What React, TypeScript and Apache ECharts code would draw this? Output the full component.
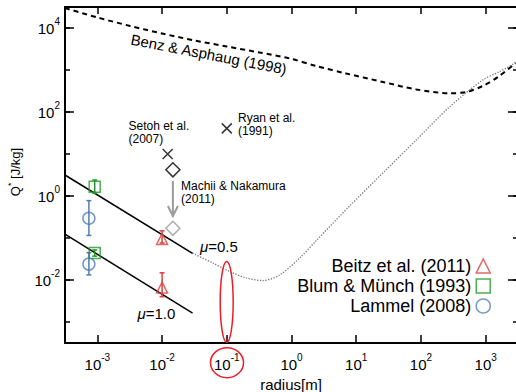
import React, { useEffect, useRef } from "react";
import * as echarts from "echarts";

const FONT = '"Liberation Sans", Arial, Helvetica, sans-serif';
const RED = "#d9403f";
const GREEN = "#22992a";
const BLUE = "#4f7db3";
const ELLIPSE = "#ee1c25";

// Benz & Asphaug (1998) dashed curve
const benzR = [3.16e-4, 1e-3, 3.2e-3, 0.01, 0.032, 0.1, 0.32, 0.94, 2.4, 7, 26, 85, 276, 500, 900, 1630, 2900];
const benzQ = [29900, 17800, 11200, 7400, 5040, 3630, 2610, 1880, 1245, 826, 518, 344, 279, 299, 416, 719, 1470];

// dotted extrapolation curve
const gravR = [0.0296, 0.0608, 0.111, 0.201, 0.36, 0.658, 1.34, 2.42, 7.9, 25.8, 84.5, 276, 902, 1633, 2884];
const gravQ = [0.0433, 0.0254, 0.0159, 0.0112, 0.0097, 0.0132, 0.0334, 0.0871, 0.578, 3.53, 21.5, 131.5, 578, 912, 1470];

// mu lines
const mu05R = [3.16e-4, 0.0296];
const mu05Q = [3.16, 0.0433];
const mu10R = [3.16e-4, 0.0296];
const mu10Q = [0.123, 0.00162];

// experiments
const beitzR = [0.01, 0.01];
const beitzQ = [0.095, 0.0066];
const beitzLo = [0.076, 0.004];
const beitzHi = [0.148, 0.0148];

const blumR = [9.1e-4, 9.1e-4];
const blumQ = [1.66, 0.044];
const blumLo = [1.17, 0.037];
const blumHi = [2.4, 0.052];

const lammelR = [7.4e-4, 7.4e-4];
const lammelQ = [0.295, 0.024];
const lammelLo = [0.115, 0.0132];
const lammelHi = [0.776, 0.0447];

const crossR = [0.0122, 0.1]; // Setoh, Ryan
const crossQ = [10, 40.7];
const setohDiamondR = [0.0147];
const setohDiamondQ = [4.2];
const machiiR = [0.0147];
const machiiQ = [0.17];
const arrowR = [0.0147];
const arrowFrom = [2.28];
const arrowTo = [0.334];

const X_MIN = Math.pow(10, -3.5);
const X_MAX = Math.pow(10, 3.5);
const Y_MIN = Math.pow(10, -3.5);
const Y_MAX = Math.pow(10, 4.5);

const rich = {
  b: { fontSize: 15, lineHeight: 24, fontFamily: FONT, color: "#000" },
  s: { fontSize: 10, lineHeight: 10, verticalAlign: "top", fontFamily: FONT, color: "#000" },
};

const expLabel = (v: number, evenOnly: boolean) => {
  const e = Math.log10(v);
  const r = Math.round(e);
  if (Math.abs(e - r) > 0.01) return "";
  if (evenOnly && r % 2 !== 0) return "";
  return `{b|10}{s|${r === 0 ? 0 : r}}`;
};

const pairs = (xs: number[], ys: number[]) => xs.map((x, i) => [x, ys[i]]);

const errorSeries = (name: string, xs: number[], lo: number[], hi: number[], color: string) => ({
  type: "custom",
  name,
  xAxisIndex: 0,
  yAxisIndex: 0,
  z: 4,
  data: xs.map((x, i) => [x, lo[i], hi[i]]),
  encode: { x: 0, y: [1, 2] },
  renderItem: (params: any, api: any) => {
    const x = api.value(0);
    const top = api.coord([x, api.value(2)]);
    const bot = api.coord([x, api.value(1)]);
    const w = 2.5;
    const st = { stroke: color, lineWidth: 1.5 };
    return {
      type: "group",
      children: [
        { type: "line", shape: { x1: top[0], y1: top[1], x2: bot[0], y2: bot[1] }, style: st },
        { type: "line", shape: { x1: top[0] - w, y1: top[1], x2: top[0] + w, y2: top[1] }, style: st },
        { type: "line", shape: { x1: bot[0] - w, y1: bot[1], x2: bot[0] + w, y2: bot[1] }, style: st },
      ],
    };
  },
});

const openStyle = (color: string) => ({ color: "rgba(0,0,0,0)", borderColor: color, borderWidth: 1.5 });

const legendFor = (name: string, icon: string, color: string, top: number) => ({
  data: [{ name, icon, itemStyle: openStyle(color) }],
  right: 25,
  top,
  orient: "vertical",
  align: "right",
  itemWidth: 14,
  itemHeight: 14,
  padding: 0,
  selectedMode: false,
  textStyle: { fontSize: 18, fontFamily: FONT, color: "#000" },
});

const tick = (length: number) => ({ show: true, inside: true, length, lineStyle: { color: "#000", width: 1.5 } });

export default function App() {
  const ref = useRef<HTMLDivElement>(null);
  useEffect(() => {
    if (!ref.current) return;
    const chart = echarts.init(ref.current, undefined, { renderer: "svg" });
    const axisLine = { show: true, lineStyle: { color: "#000", width: 2 } };
    const option: any = {
      animation: false,
      backgroundColor: "#fff",
      textStyle: { fontFamily: FONT },
      grid: { left: 65, top: 7, width: 453, height: 336, outerBoundsMode: "none", containLabel: false },
      xAxis: [
        {
          type: "log", logBase: 10, min: X_MIN, max: X_MAX, position: "bottom",
          axisLine, axisTick: tick(8),
          axisLabel: { margin: 9, formatter: (v: number) => expLabel(v, false), rich },
          splitLine: { show: false },
        },
        {
          type: "log", logBase: 10, min: X_MIN, max: X_MAX, position: "top",
          axisLine, axisTick: tick(7),
          axisLabel: { show: false },
          splitLine: { show: false },
        },
      ],
      yAxis: [
        {
          type: "log", logBase: 100, min: Y_MIN, max: Y_MAX, position: "left",
          axisLine, axisTick: tick(9),
          axisLabel: { margin: 5, formatter: (v: number) => expLabel(v, true), rich },
          splitLine: { show: false },
        },
        {
          type: "log", logBase: 10, min: Y_MIN, max: Y_MAX, position: "left",
          axisLine: { show: false }, axisTick: tick(5),
          axisLabel: { show: false },
          splitLine: { show: false },
        },
        {
          type: "log", logBase: 100, min: Y_MIN, max: Y_MAX, position: "right",
          axisLine, axisTick: tick(10),
          axisLabel: { show: false },
          splitLine: { show: false },
        },
        {
          type: "log", logBase: 10, min: Y_MIN, max: Y_MAX, position: "right",
          axisLine: { show: false }, axisTick: tick(5),
          axisLabel: { show: false },
          splitLine: { show: false },
        },
      ],
      legend: [
        legendFor("Beitz et al. (2011)", "triangle", RED, 257),
        legendFor("Blum & Münch (1993)", "rect", GREEN, 277),
        legendFor("Lammel (2008)", "circle", BLUE, 297),
      ],
      series: [
        {
          type: "line", name: "Benz & Asphaug (1998)", data: pairs(benzR, benzQ),
          smooth: 0.3, showSymbol: false, symbol: "none",
          lineStyle: { color: "#000", width: 2, type: [5, 4] },
        },
        {
          type: "line", name: "extrapolation", data: pairs(gravR, gravQ),
          smooth: 0.3, showSymbol: false, symbol: "none",
          lineStyle: { color: "#777", width: 1.3, type: [1.3, 1.5] },
        },
        {
          type: "line", name: "mu=0.5", data: pairs(mu05R, mu05Q),
          showSymbol: false, symbol: "none", lineStyle: { color: "#000", width: 1.5 },
        },
        {
          type: "line", name: "mu=1.0", data: pairs(mu10R, mu10Q),
          showSymbol: false, symbol: "none", lineStyle: { color: "#000", width: 1.5 },
        },
        errorSeries("Beitz err", beitzR, beitzLo, beitzHi, RED),
        errorSeries("Blum err", blumR, blumLo, blumHi, GREEN),
        errorSeries("Lammel err", lammelR, lammelLo, lammelHi, BLUE),
        {
          type: "scatter", name: "Beitz et al. (2011)", data: pairs(beitzR, beitzQ),
          symbol: "triangle", symbolSize: 11, itemStyle: openStyle(RED), z: 5,
        },
        {
          type: "scatter", name: "Blum & Münch (1993)", data: pairs(blumR, blumQ),
          symbol: "rect", symbolSize: 11, itemStyle: openStyle(GREEN), z: 5,
        },
        {
          type: "scatter", name: "Lammel (2008)", data: pairs(lammelR, lammelQ),
          symbol: "circle", symbolSize: 12, itemStyle: openStyle(BLUE), z: 5,
        },
        {
          type: "scatter", name: "crosses", data: pairs(crossR, crossQ),
          symbol: "path://M0,0L10,10M0,10L10,0", symbolSize: 10,
          itemStyle: openStyle("#000"), z: 5,
        },
        {
          type: "scatter", name: "Setoh diamond", data: pairs(setohDiamondR, setohDiamondQ),
          symbol: "diamond", symbolSize: [14, 14], itemStyle: openStyle("#000"), z: 5,
        },
        {
          type: "scatter", name: "Machii", data: pairs(machiiR, machiiQ),
          symbol: "diamond", symbolSize: [14, 14], itemStyle: openStyle("#9a9a9a"), z: 5,
        },
        {
          type: "custom", name: "arrow", xAxisIndex: 0, yAxisIndex: 0,
          data: arrowR.map((x, i) => [x, arrowFrom[i], arrowTo[i]]),
          encode: { x: 0, y: [1, 2] },
          renderItem: (params: any, api: any) => {
            const x = api.value(0);
            const a = api.coord([x, api.value(1)]);
            const b = api.coord([x, api.value(2)]);
            const st = { stroke: "#9a9a9a", lineWidth: 2, fill: "none" };
            return {
              type: "group",
              children: [
                { type: "line", shape: { x1: a[0], y1: a[1], x2: b[0], y2: b[1] - 1 }, style: st },
                {
                  type: "polyline",
                  shape: { points: [[b[0] - 5, b[1] - 10], [b[0], b[1]], [b[0] + 5, b[1] - 10]] },
                  style: st,
                },
              ],
            };
          },
        },
      ],
      graphic: [
        {
          type: "text", x: 131, y: 39, rotation: -11 * Math.PI / 180,
          style: { text: "Benz & Asphaug (1998)", fontSize: 15, fontFamily: FONT, fill: "#000", align: "left", verticalAlign: "middle" },
        },
        {
          type: "text", x: 128.5, y: 119.5,
          style: { text: "Setoh et al.\n(2007)", fontSize: 12, lineHeight: 13, fontFamily: FONT, fill: "#000", align: "left", verticalAlign: "top" },
        },
        {
          type: "text", x: 238, y: 111.5,
          style: { text: "Ryan et al.\n(1991)", fontSize: 12, lineHeight: 13, fontFamily: FONT, fill: "#000", align: "left", verticalAlign: "top" },
        },
        {
          type: "text", x: 181, y: 179.5,
          style: { text: "Machii & Nakamura\n(2011)", fontSize: 12, lineHeight: 13, fontFamily: FONT, fill: "#000", align: "left", verticalAlign: "top" },
        },
        {
          type: "text", x: 200, y: 246,
          style: {
            text: "{m|μ}{t|=0.5}", align: "left", verticalAlign: "middle",
            rich: {
              m: { fontSize: 15, fontStyle: "italic", fontFamily: FONT, fill: "#000" },
              t: { fontSize: 15, fontFamily: FONT, fill: "#000" },
            },
          },
        },
        {
          type: "text", x: 137.5, y: 313,
          style: {
            text: "{m|μ}{t|=1.0}", align: "left", verticalAlign: "middle",
            rich: {
              m: { fontSize: 15, fontStyle: "italic", fontFamily: FONT, fill: "#000" },
              t: { fontSize: 15, fontFamily: FONT, fill: "#000" },
            },
          },
        },
        {
          type: "ellipse", shape: { cx: 226.7, cy: 302, rx: 6.5, ry: 40.5 },
          style: { fill: "none", stroke: ELLIPSE, lineWidth: 1.5 }, z: 100,
        },
        {
          type: "ellipse", shape: { cx: 227, cy: 362.7, rx: 16.5, ry: 15 },
          style: { fill: "none", stroke: ELLIPSE, lineWidth: 1.5 }, z: 100,
        },
        {
          type: "text", x: 15, y: 172, rotation: Math.PI / 2,
          style: {
            text: "{q|Q}{s|*}{q| [J/kg]}", align: "center", verticalAlign: "middle",
            rich: {
              q: { fontSize: 13, lineHeight: 18, fontFamily: FONT, fill: "#000" },
              s: { fontSize: 9, lineHeight: 9, verticalAlign: "top", fontFamily: FONT, fill: "#000" },
            },
          },
        },
        {
          type: "text", x: 291, y: 384,
          style: { text: "radius[m]", fontSize: 15, fontFamily: FONT, fill: "#000", align: "center", verticalAlign: "middle" },
        },
      ],
    };
    chart.setOption(option);
    return () => chart.dispose();
  }, []);
  return (
    <div
      ref={ref}
      style={{ position: "fixed", left: 0, top: 0, width: 516, height: 392, background: "#fff" }}
    />
  );
}
